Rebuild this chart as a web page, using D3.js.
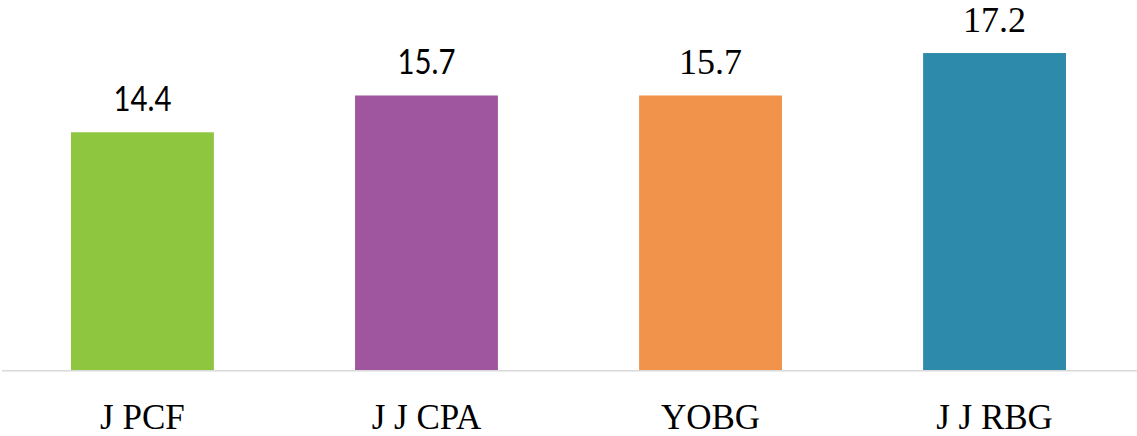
<!DOCTYPE html>
<html>
<head>
<meta charset="utf-8">
<script src="https://cdn.jsdelivr.net/npm/d3@7"></script>
<style>
  body { margin: 0; background: #fff; }
</style>
</head>
<body>
<div id="chart"></div>
<script>
// chart data
const categories = ["J PCF", "J J CPA", "YOBG", "J J RBG"];
const values = [14.4, 15.7, 15.7, 17.2];
const valueLabels = ["14.4", "15.7", "15.7", "17.2"];
const barColors = ["#8EC640", "#A0559F", "#F2934B", "#2E8AAB"];
// first two value labels are drawn in a sans face, the rest in serif
const labelFonts = ["sans", "sans", "serif", "serif"];

const SERIF = '"Liberation Serif"';
const SANS = '"Lato"';

const width = 1137;
const height = 436;
const baseline = 370;

const svg = d3.select("#chart")
    .append("svg")
    .attr("width", width)
    .attr("height", height);

const x = d3.scaleBand()
    .domain(categories)
    .range([0, width])
    .paddingInner(0.497)
    .paddingOuter(0.25);

const y = d3.scaleLinear()
    .domain([6, 18])
    .range([baseline, baseline - 12 * 28.3]);

// bars
svg.selectAll("rect.bar")
    .data(values)
    .join("rect")
    .attr("class", "bar")
    .attr("x", (d, i) => x(categories[i]))
    .attr("y", d => y(d))
    .attr("width", x.bandwidth())
    .attr("height", d => baseline - y(d))
    .attr("fill", (d, i) => barColors[i]);

// baseline axis
const axis = svg.append("g")
    .attr("transform", `translate(0,${baseline + 0.75})`)
    .call(d3.axisBottom(x).tickSize(0).tickPadding(0).tickFormat(""));
axis.select(".domain")
    .attr("d", `M2,0H${width}`)
    .attr("stroke", "#d9d9d9")
    .attr("stroke-width", 1.5);

// category labels
svg.selectAll("text.cat")
    .data(categories)
    .join("text")
    .attr("class", "cat")
    .attr("x", d => x(d) + x.bandwidth() / 2)
    .attr("y", 429)
    .attr("text-anchor", "middle")
    .style("font-family", SERIF)
    .style("font-size", "35px")
    .style("white-space", "pre")
    .attr("fill", "#000")
    .text(d => d);

// value labels
svg.selectAll("text.val")
    .data(values)
    .join("text")
    .attr("class", "val")
    .attr("x", (d, i) => x(categories[i]) + x.bandwidth() / 2)
    .attr("y", d => y(d) - 21)
    .attr("text-anchor", "middle")
    .attr("fill", "#000")
    .each(function (d, i) {
        const t = d3.select(this);
        if (labelFonts[i] === "sans") {
            t.style("font-family", SANS)
                .style("font-size", "35px")
                .attr("textLength", 58)
                .attr("lengthAdjust", "spacingAndGlyphs");
        } else {
            t.style("font-family", SERIF)
                .style("font-size", "36px");
        }
    })
    .text((d, i) => valueLabels[i]);
</script>
</body>
</html>
